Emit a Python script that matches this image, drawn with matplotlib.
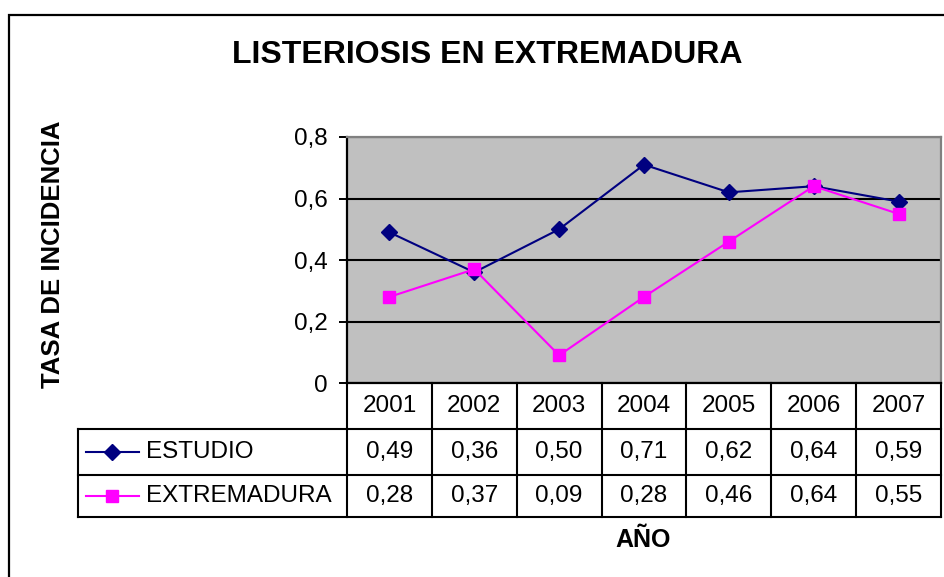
import matplotlib.pyplot as plt
from matplotlib.patches import Rectangle
from matplotlib.lines import Line2D

plt.rcParams['font.family'] = ['Liberation Sans', 'DejaVu Sans']

# data
years = ['2001', '2002', '2003', '2004', '2005', '2006', '2007']
estudio = [0.49, 0.36, 0.50, 0.71, 0.62, 0.64, 0.59]
extremadura = [0.28, 0.37, 0.09, 0.28, 0.46, 0.64, 0.55]
series_names = ['ESTUDIO', 'EXTREMADURA']
y_ticks = [0, 0.2, 0.4, 0.6, 0.8]
y_tick_labels = ['0', '0,2', '0,4', '0,6', '0,8']

navy = '#000080'
magenta = '#FF00FF'

W, H = 944, 577
fig = plt.figure(figsize=(W / 100, H / 100), dpi=100)

# outer chart border (runs off the right and bottom of the picture)
fig.patches.append(Rectangle((9 / W, -0.05), 1.1, 1 - 15 / H + 0.05,
                             transform=fig.transFigure, fill=False,
                             edgecolor='black', linewidth=1.6))

# plot area
left, top, right, bottom = 347, 137, 941, 383
ax = fig.add_axes([left / W, 1 - bottom / H, (right - left) / W, (bottom - top) / H])
ax.set_facecolor('#C0C0C0')

x = list(range(len(years)))
ax.plot(x, estudio, color=navy, lw=1.5, marker='D', ms=8, zorder=3)
ax.plot(x, extremadura, color=magenta, lw=1.5, marker='s', ms=9, zorder=3)

ax.set_xlim(-0.5, len(years) - 0.5)
ax.set_ylim(0, 0.8)
ax.set_yticks(y_ticks)
ax.set_yticklabels(y_tick_labels, fontsize=17.5)
ax.set_xticks([])
ax.tick_params(axis='y', length=6, width=1.4, pad=8)
ax.yaxis.grid(True, color='black', lw=1.5)
ax.set_axisbelow(True)
for side in ['top', 'right']:
    ax.spines[side].set_color('#808080')
    ax.spines[side].set_linewidth(1.6)
ax.spines['left'].set_linewidth(1.6)
ax.spines['bottom'].set_linewidth(1.6)

# data table below the plot (axes coordinates)
ncol = len(years)
row_y = [0, -46 / 246, -92 / 246, -134 / 246]
tab_left = (78 - left) / (right - left)
lkw = dict(transform=ax.transAxes, color='black', lw=1.5, clip_on=False)

# horizontal lines
ax.add_line(Line2D([tab_left, 1], [row_y[1], row_y[1]], **lkw))
ax.add_line(Line2D([tab_left, 1], [row_y[2], row_y[2]], **lkw))
ax.add_line(Line2D([tab_left, 1], [row_y[3], row_y[3]], **lkw))
# vertical lines
ax.add_line(Line2D([tab_left, tab_left], [row_y[1], row_y[3]], **lkw))
for i in range(ncol + 1):
    ax.add_line(Line2D([i / ncol, i / ncol], [row_y[0], row_y[3]], **lkw))

for i, yr in enumerate(years):
    xc = (i + 0.5) / ncol
    ax.text(xc, (row_y[0] + row_y[1]) / 2, yr, transform=ax.transAxes,
            ha='center', va='center', fontsize=17.5)
    ax.text(xc, (row_y[1] + row_y[2]) / 2, f'{estudio[i]:.2f}'.replace('.', ','),
            transform=ax.transAxes, ha='center', va='center', fontsize=17.5)
    ax.text(xc, (row_y[2] + row_y[3]) / 2, f'{extremadura[i]:.2f}'.replace('.', ','),
            transform=ax.transAxes, ha='center', va='center', fontsize=17.5)

# legend keys inside the table row headers
k0 = (86 - left) / (right - left)
k1 = (139 - left) / (right - left)
kt = (146 - left) / (right - left)
for j, (name, col, mk, ms) in enumerate(zip(series_names, [navy, magenta], ['D', 's'], [8, 9])):
    yc = (row_y[j + 1] + row_y[j + 2]) / 2
    ax.add_line(Line2D([k0, k1], [yc, yc], transform=ax.transAxes, color=col,
                       lw=1.5, clip_on=False))
    ax.add_line(Line2D([(k0 + k1) / 2], [yc], transform=ax.transAxes, color=col,
                       marker=mk, ms=ms, clip_on=False))
    ax.text(kt, yc, name, transform=ax.transAxes, ha='left', va='center', fontsize=17.5)

# titles
fig.text(487 / W, 1 - 55 / H, 'LISTERIOSIS EN EXTREMADURA', ha='center', va='center',
         fontsize=23, fontweight='bold')
fig.text(53 / W, 1 - 254 / H, 'TASA DE INCIDENCIA', ha='center', va='center',
         rotation=90, fontsize=18.5, fontweight='bold')
fig.text(643 / W, 1 - 540 / H, 'AÑO', ha='center', va='center',
         fontsize=18, fontweight='bold')

fig.savefig('out.png', dpi=100)
